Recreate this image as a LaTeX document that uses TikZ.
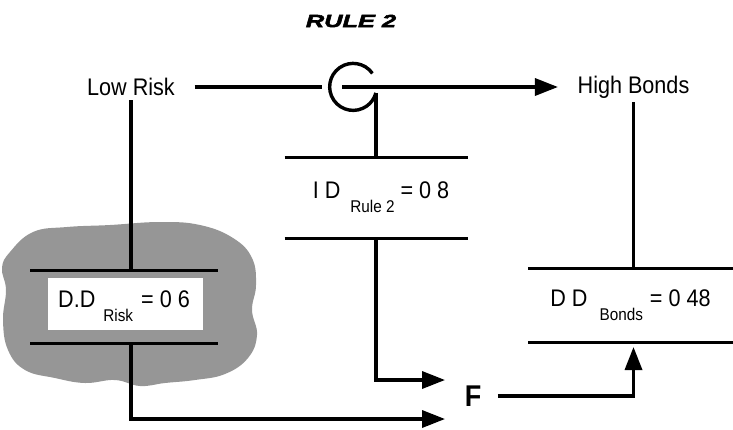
\documentclass[tikz,border=0pt]{standalone}
\usepackage{fontspec}
\setmainfont{Liberation Sans}[FakeStretch=0.9]
\newfontfamily\titlefont{Liberation Sans Bold Italic}[FakeStretch=1.45,FakeBold=3]
\usetikzlibrary{arrows.meta,calc,backgrounds}
\definecolor{Stipple}{RGB}{150,150,150}
\newcommand{\subtag}[1]{\raisebox{-14pt}{\fontsize{17}{19}\selectfont #1}}

\begin{document}
\begin{tikzpicture}[x=1pt,y=-1pt,
    txt/.style={font=\fontsize{24}{26}\selectfont,inner sep=4pt},
    frameBox/.style={txt,inner sep=0pt,outer sep=0pt},
    ruleLine/.style={line width=3pt},
    wire/.style={line width=3.4pt},
    arr/.style={wire,-{Triangle[length=23pt,width=17pt]}}
  ]
  \useasboundingbox (0,0) rectangle (733,429);

  % title
  \node (title) at (351,21) {\fontsize{17.5}{20}\titlefont RULE 2};

  % inputs and output
  \node (lowrisk)[txt] at (131,87) {Low Risk};
  \node (highbonds)[txt] at (633.5,87) {High Bonds};
  \node (gate)[circle,minimum size=47pt,inner sep=0pt] at (353,87) {};
  \node (F)[inner sep=0pt,font=\fontsize{30}{32}\selectfont\bfseries] at (473,396) {F};

  % ruled boxes
  \node (idbox)[frameBox,minimum width=183pt,minimum height=81pt] at (376,197.5)
    {\hspace*{10pt}I D\hspace{10pt}\subtag{Rule 2}\hspace{6pt}= 0 8};
  \node (riskbox)[frameBox,minimum width=188pt,minimum height=73pt] at (124,306.5)
    {D.D\hspace{8pt}\subtag{Risk}\hspace{8pt}= 0 6};
  \node (bondbox)[frameBox,minimum width=205pt,minimum height=74pt] at (630.5,305)
    {D D\hspace{12pt}\subtag{Bonds}\hspace{7pt}= 0 48};
  \foreach \b in {idbox,riskbox,bondbox}
    \draw[ruleLine] (\b.north west) -- (\b.north east)
                    (\b.south west) -- (\b.south east);

  % cloud behind the risk box
  \begin{scope}[on background layer]
    \fill[Stipple] plot[smooth cycle,tension=0.7] coordinates {
      (10,252) (33,232) (67,227) (110,225) (160,222) (200,225) (233,238)
      (252,258) (256,285) (252,310) (257,335) (248,358) (225,374) (195,380)
      (165,383) (140,386) (115,380) (85,383) (55,378) (25,370) (8,350)
      (3,320) (6,290) (2,268)};
    \fill[white] ($(riskbox.north west)+(18,8)$) rectangle ($(riskbox.south east)+(-15,-13)$);
  \end{scope}

  % gate symbol
  \draw[wire] (gate.35) arc[start angle=-35,end angle=-345,radius=23.5] coordinate (gtail);
  \draw[wire] (gtail) -- (gtail |- idbox.north);

  % connectors
  \draw[wire,shorten <=15.5pt,shorten >=7pt] (lowrisk.east) -- (lowrisk.east -| gate.west);
  \draw[arr,shorten >=15.5pt] ($(gate.center)+(-11,0)$) -- ($(gate.center)!1!(gate.center -| highbonds.west)$);
  \draw[wire] (lowrisk.south) -- (lowrisk.south |- riskbox.north);
  \draw[wire] (highbonds.south) -- (highbonds.south |- bondbox.north);
  \draw[arr] (idbox.south) |- ($(F.west)+(-19.5,-16)$);
  \draw[arr] (lowrisk.south |- riskbox.south) |- ($(F.west)+(-19.5,23)$);
  \draw[arr,shorten <=16.5pt,shorten >=5pt] (F.east) -| (highbonds.south |- bondbox.south);
\end{tikzpicture}
\end{document}
